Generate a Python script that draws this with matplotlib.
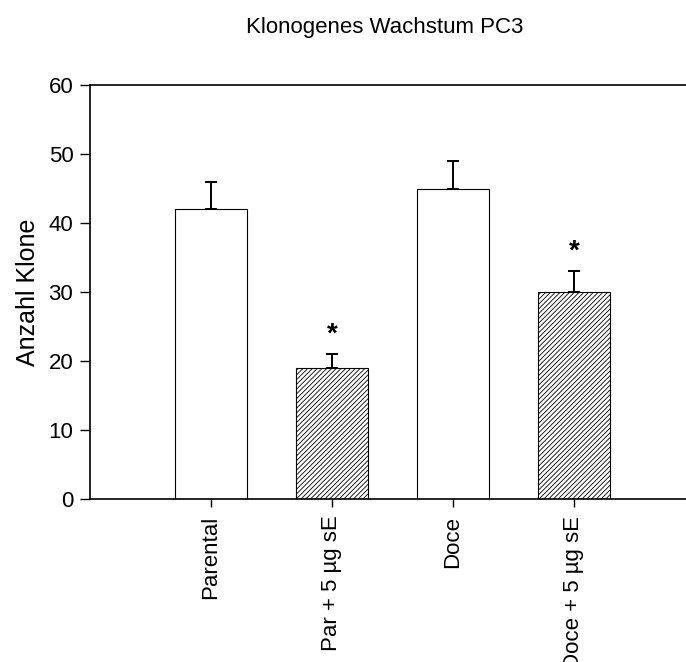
import numpy as np
import matplotlib
matplotlib.use("Agg")
import matplotlib.pyplot as plt

plt.rcParams['font.family'] = ['Liberation Sans', 'DejaVu Sans']
plt.rcParams['hatch.color'] = '#555555'
plt.rcParams['hatch.linewidth'] = 0.6

# data
groups = ['Parental', 'Par + 5 µg sE', 'Doce', 'Doce + 5 µg sE']
mean_clones = [42, 19, 45, 30]
err_up = [4, 2, 4, 3]
hatches = ['', '///////', '', '///////']
signif = ['', '*', '', '*']

fig = plt.figure(figsize=(6.86, 6.62), dpi=100)
ax = fig.add_axes([90/686, 163/662, 605/686, 414/662])

x = np.arange(len(groups))
for i in range(len(groups)):
    ax.bar(x[i], mean_clones[i], width=0.6, color='white', edgecolor='black',
           linewidth=0.8, hatch=hatches[i], zorder=2)
ax.errorbar(x, mean_clones, yerr=[np.zeros(len(x)), err_up], fmt='none',
            ecolor='black', elinewidth=1.4, capsize=4.5, capthick=1.4, zorder=3)
for i, s in enumerate(signif):
    if s:
        ax.text(x[i], mean_clones[i] + err_up[i] + 1.0, s, ha='center', va='bottom',
                fontsize=20, fontweight='bold')

ax.set_xlim(-1, 4)
ax.set_ylim(0, 60)
ax.set_yticks(np.arange(0, 61, 10))
ax.set_xticks(x)
ax.set_xticklabels(groups, rotation=90, fontsize=16)
ax.tick_params(axis='y', labelsize=16, length=7, width=1, direction='out', pad=5)
ax.tick_params(axis='x', length=6, width=1, direction='out', pad=6)
ax.spines['right'].set_visible(False)
for sp in ['left', 'bottom', 'top']:
    ax.spines[sp].set_linewidth(1.2)
ax.set_ylabel('Anzahl Klone', fontsize=18, labelpad=6)

fig.text(385/686, 1 - 28/662, 'Klonogenes Wachstum PC3', ha='center', va='center', fontsize=16)

fig.savefig('out.png', dpi=100)
